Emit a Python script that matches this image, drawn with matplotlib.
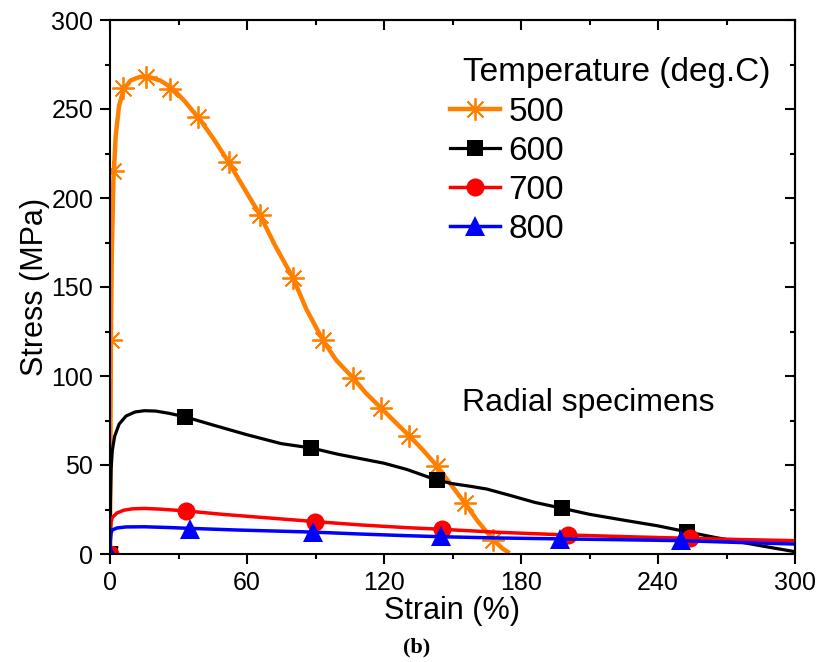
import matplotlib
matplotlib.use("Agg")
import matplotlib.pyplot as plt

plt.rcParams['font.family'] = ['Liberation Sans', 'DejaVu Sans']

# Curve samples (strain %, stress MPa) for each test temperature
strain_500 = [0, 0.2, 0.4, 0.8, 1.5, 2.5, 4, 6, 9, 13, 17, 22, 27, 33, 40, 46, 52, 58, 65.7,
              72, 80.2, 86, 93.3, 99, 106.4, 112, 118.7, 125, 131, 137, 143.2, 149, 155.5, 161, 167.8, 172, 175]
stress_500 = [0, 60, 120, 170, 210, 235, 252, 261, 266, 268, 268, 266, 262, 254, 243, 232, 220, 207, 190.5,
              174, 155, 137.5, 120, 109, 99, 90.5, 82, 74, 66.5, 58.5, 49.5, 39.5, 28.5, 18.5, 8, 3, 0.5]

strain_600 = [0, 0.2, 0.5, 1, 2, 4, 7, 11, 15, 20, 26, 33, 45, 60, 75, 88, 100, 110, 120, 130,
              143, 150, 158, 165, 175, 186, 198, 210, 225, 240, 252.5, 265, 280, 290, 300]
stress_600 = [0, 30, 48, 58, 66, 73, 77.5, 79.8, 80.5, 80.3, 79, 77, 72.5, 67, 62, 59.6, 56, 53.5, 51, 47.5,
              41.6, 39.5, 38, 36.5, 33, 29, 25.7, 22.3, 19, 15.8, 12.5, 9.3, 5.8, 3.5, 1.3]

strain_700 = [0, 0.2, 0.5, 1, 3, 6, 10, 15, 22, 33.3, 50, 70, 89.8, 110, 130, 145, 170, 200, 230, 254, 280, 300]
stress_700 = [0, 12, 18, 20.5, 23, 24.6, 25.4, 25.6, 25.2, 24.2, 22.2, 20.2, 18.2, 16.3, 14.8, 13.9,
              12.2, 10.7, 9.6, 8.8, 8, 7.5]

strain_800 = [0, 0.2, 0.5, 1, 3, 7, 15, 25, 35, 55, 75, 89, 110, 130, 145, 170, 197, 225, 250, 275, 300]
stress_800 = [0, 8, 12, 13.5, 14.6, 15.2, 15.3, 14.9, 14.4, 13.5, 12.8, 12.3, 11.2, 10.3, 9.7, 9,
              8.5, 8, 7.5, 6.5, 5.6]

# Symbol positions along each curve
mark_x_500 = [0, 0.3, 1.5, 5.7, 15.8, 26.3, 38.5, 52, 65.7, 80.2, 93.3, 106.4, 118.7, 131, 143.2, 155.5, 167.8]
mark_y_500 = [0, 120, 215, 262, 268, 261, 245.5, 220, 190.5, 155, 120, 99, 82, 66.5, 49.5, 28.5, 8]
mark_x_600 = [0, 32.8, 88, 143.1, 197.8, 252.5]
mark_y_600 = [0, 77, 59.6, 41.6, 25.7, 12.5]
mark_x_700 = [0, 33.3, 89.8, 145.3, 200.8, 254]
mark_y_700 = [0, 24.2, 18.2, 13.9, 10.7, 8.8]
mark_x_800 = [0, 35, 89, 145, 197, 250]
mark_y_800 = [0, 14.3, 12.3, 9.9, 8.6, 7.6]

temperatures = ['500', '600', '700', '800']
colors = ['#FF8000', '#000000', '#FF0000', '#0000FF']

fig = plt.figure(figsize=(8.19, 6.62), dpi=100)
ax = fig.add_axes([110 / 819, 1 - 554 / 662, 685 / 819, 534 / 662])

asterisk = (8, 2, 0)
series = [
    (strain_500, stress_500, mark_x_500, mark_y_500, asterisk, 16, 3.2),
    (strain_600, stress_600, mark_x_600, mark_y_600, 's', 12, 2.3),
    (strain_700, stress_700, mark_x_700, mark_y_700, 'o', 13, 2.5),
    (strain_800, stress_800, mark_x_800, mark_y_800, '^', 15, 2.5),
]

handles = []
for (cx, cy, mx, my, mk, ms, lw), col, lab in zip(series, colors, temperatures):
    ax.plot(cx, cy, color=col, lw=lw, solid_capstyle='butt')
    mew = 1.3 if mk == asterisk else 0
    ax.plot(mx, my, ls='none', marker=mk, ms=ms, mec=col, mfc=col, mew=mew)
    h, = ax.plot([], [], color=col, lw=lw, marker=mk, ms=ms, mec=col, mfc=col, mew=mew)
    handles.append(h)

ax.set_xlim(0, 300)
ax.set_ylim(0, 300)
ax.set_xticks([0, 60, 120, 180, 240, 300])
ax.set_xticks([30, 90, 150, 210, 270], minor=True)
ax.set_yticks([0, 50, 100, 150, 200, 250, 300])
ax.set_yticks([25, 75, 125, 175, 225, 275], minor=True)

for s in ax.spines.values():
    s.set_linewidth(1.5)

ax.tick_params(which='both', labelsize=18, width=1.5)
ax.tick_params(which='major', length=7, pad=5)
ax.tick_params(which='minor', length=3.6)
ax.tick_params(axis='x', which='both', direction='out', top=False)
ax.tick_params(axis='y', which='both', direction='out', right=False)

# Inward ticks mirrored on the top and right edges
top = ax.secondary_xaxis('top')
top.set_xticks([0, 60, 120, 180, 240, 300])
top.set_xticks([30, 90, 150, 210, 270], minor=True)
top.tick_params(which='both', direction='in', width=1.5, labeltop=False)
top.tick_params(which='major', length=7)
top.tick_params(which='minor', length=3.6)
top.spines['top'].set_linewidth(1.5)
right = ax.secondary_yaxis('right')
right.set_yticks([0, 50, 100, 150, 200, 250, 300])
right.set_yticks([25, 75, 125, 175, 225, 275], minor=True)
right.tick_params(which='both', direction='in', width=1.5, labelright=False)
right.tick_params(which='major', length=7)
right.tick_params(which='minor', length=3.6)
right.spines['right'].set_linewidth(1.5)

ax.set_xlabel('Strain (%)', fontsize=22)
ax.set_ylabel('Stress (MPa)', fontsize=22)
ax.xaxis.set_label_coords(0.5, -0.078)
ax.yaxis.set_label_coords(-0.088, 0.5)

ax.text(154, 85, 'Radial specimens', fontsize=23, ha='left', va='center')

fig.text(463 / 819, 1 - 73 / 662, 'Temperature (deg.C)', fontsize=24, ha='left', va='center')
leg = ax.legend(handles, temperatures, fontsize=24, frameon=False, loc='upper left',
                bbox_to_anchor=(450 / 819, 1 - 97 / 662), bbox_transform=fig.transFigure,
                borderpad=0, borderaxespad=0, handlelength=1.5, handletextpad=0.25,
                labelspacing=0.24)

fig.text(417 / 819, 1 - 647 / 662, '(b)', fontsize=16, fontweight='bold',
         family=['Liberation Serif', 'DejaVu Serif'], ha='center', va='center')

fig.savefig('out.png', dpi=100)
